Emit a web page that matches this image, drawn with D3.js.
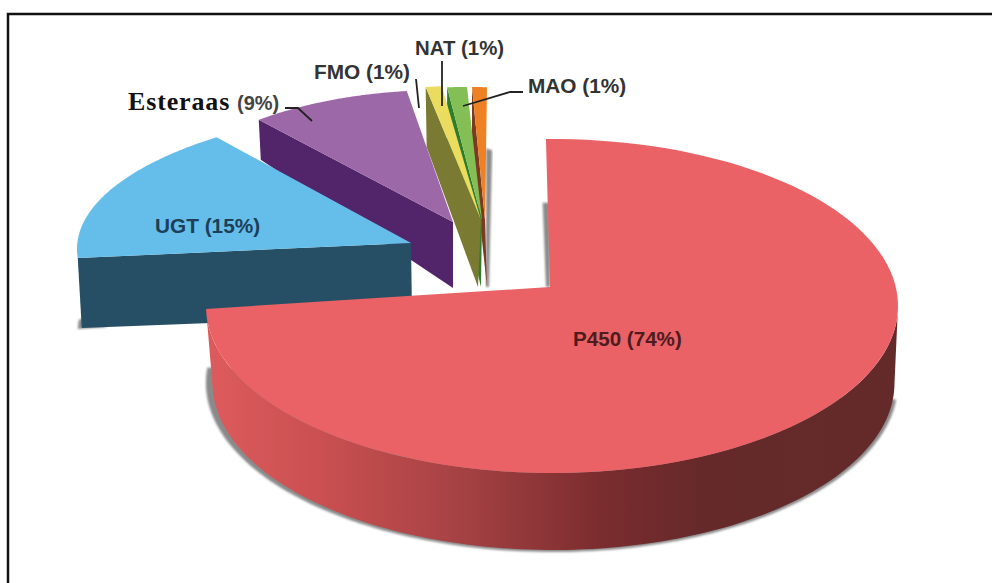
<!DOCTYPE html>
<html>
<head>
<meta charset="utf-8">
<script src="https://cdn.jsdelivr.net/npm/d3@7"></script>
<style>
  html, body { margin: 0; padding: 0; background: #fff; }
  svg { display: block; }
  text { font-family: "Liberation Sans", Arial, sans-serif; font-weight: bold; }
</style>
</head>
<body>
<svg id="chart" width="992" height="583"></svg>
<script>
// Drug-metabolising enzymes: share of each family
const categories = ["P450", "UGT", "Esteraas", "FMO", "NAT", "MAO"];
const shares = [74, 15, 9, 1, 1, 1];
const shareLabels = ["P450 (74%)", "UGT (15%)", "Esteraas", "FMO (1%)", "NAT (1%)", "MAO (1%)"];
const topColors = ["#ea6266", "#65bdea", "#9d68a8", "#e9dc5e", "#84bf55", "#ef8125"];
const wallColors = ["url(#p450Wall)", "#264f66", "#52256a", "#7a7a32", "#2e7d2e", "#7a3b20"];

// Where each exploded wedge sits in the tilted view
const wedgeLayout = [
  { cx: 552, cy: 306, rx: 346, ry: 167, rot: -1, stretch: 270 / 266.4, ax: 550, ay: 287 },
  { cx: 462, cy: 249, rx: 385, ry: 145, rot: 0, stretch: 1, ax: 411, ay: 243,
    farDepth: 70, nearDepth: 72, farShift: 4, nearShift: 1 },
  { cx: 443, cy: 220, rx: 289, ry: 130, rot: 0, stretch: 1, ax: 453, ay: 222,
    farDepth: 40, nearDepth: 66, farShift: 2, nearShift: 0 },
  { cx: 458, cy: 216, rx: 258, ry: 130, rot: 0, stretch: 1, ax: 481, ay: 220,
    farDepth: 60, nearDepth: 67, farShift: 1, nearShift: -3 },
  { cx: 467, cy: 220, rx: 317, ry: 133, rot: 0, stretch: 1, ax: 482, ay: 220,
    farDepth: 60, nearDepth: 67, farShift: 0, nearShift: -1 },
  { cx: 472, cy: 220, rx: 239, ry: 133, rot: 0, stretch: 1, ax: 485, ay: 220,
    farDepth: 60, nearDepth: 67, farShift: 0, nearShift: 2 }
];

const labelLayout = [
  { x: 573, y: 346, size: 20.6, fill: "#4e1b1e" },
  { x: 155, y: 233, size: 20.8, fill: "#1e3f58" },
  { x: 128, y: 110, size: 26, fill: "#111", serif: true, spacing: 0.85 },
  { x: 314, y: 79, size: 20.8, fill: "#333" },
  { x: 415, y: 55, size: 20.4, fill: "#333" },
  { x: 528, y: 93, size: 20.8, fill: "#333" }
];
const esteraasShare = { x: 237, y: 110, size: 20, fill: "#444", text: "(9%)" };

const leaderLines = [
  [[285, 108], [298, 108], [312, 121]],
  [[416, 79], [419, 108]],
  [[442, 61], [442, 106]],
  [[523, 92], [510, 92], [463, 106]]
];

const svg = d3.select("#chart");
const line = d3.line();
const angle = d3.scaleLinear().domain([0, 100]).range([0, 360]);
const cumulative = [0, ...d3.cumsum(shares)];

const rad = d => d * Math.PI / 180;
const rim = (w, deg) =>
  [w.cx + w.rx * Math.sin(rad(deg)), w.cy - w.ry * Math.cos(rad(deg))];
const sweep = (a, b, n = 120) => d3.range(n + 1).map(i => a + (b - a) * i / n);
const lerp = (p, q, t) => [p[0] + (q[0] - p[0]) * t, p[1] + (q[1] - p[1]) * t];

const wedges = categories.map((name, i) => {
  const w = wedgeLayout[i];
  const start = angle(cumulative[i]) + w.rot;
  const end = start + angle(shares[i]) * w.stretch;
  return { i, name, w, start, end };
});

const defs = svg.append("defs");
const grad = defs.append("linearGradient").attr("id", "p450Wall")
  .attr("gradientUnits", "userSpaceOnUse")
  .attr("x1", 206).attr("x2", 898).attr("y1", 0).attr("y2", 0);
[[0, "#de5b5d"], [0.17, "#c94f50"], [0.35, "#a94345"], [0.5, "#8a3436"],
 [0.57, "#7b2c2e"], [0.72, "#65292a"], [1, "#642a29"]].forEach(([o, c]) =>
  grad.append("stop").attr("offset", o).attr("stop-color", c));
defs.append("filter").attr("id", "soft").attr("x", "-10%").attr("y", "-10%")
  .attr("width", "120%").attr("height", "120%")
  .append("feGaussianBlur").attr("stdDeviation", 1.3);

svg.append("rect").attr("width", 992).attr("height", 583).attr("fill", "#fff");

// Page frame: top and left rules only
svg.append("path").attr("d", "M8,583V14H992").attr("fill", "none")
  .attr("stroke", "#111").attr("stroke-width", 2.5);

const pie = svg.append("g");

// Thin shadows falling behind the wedges
const drawShadow = pts => pie.append("path").attr("d", line(pts) + "Z")
  .attr("fill", "#8a8a8a").attr("filter", "url(#soft)");

function drawWedge(d) {
  const { w, start, end, i, name } = d;
  const a = rim(w, start), apex = [w.ax, w.ay];
  const g = pie.append("g").attr("data-name", name);
  if (w.farDepth !== undefined) {
    // side face running from the rim to the wedge tip
    const wall = [a, apex,
      [apex[0] + w.nearShift, apex[1] + w.nearDepth],
      [a[0] + w.farShift, a[1] + w.farDepth]];
    g.append("path").attr("d", line(wall) + "Z").attr("fill", wallColors[i]);
  }
  const top = [apex, ...sweep(start, end).map(t => rim(w, t))];
  g.append("path").attr("d", line(top) + "Z").attr("fill", topColors[i]);
}

// Back to front: the slim wedges, then Esteraas, then UGT
{
  const orange = wedges[5];
  const r = rim(orange.w, orange.end), tip = [orange.w.ax, orange.w.ay];
  const upper = lerp(r, tip, 0.46);
  drawShadow([upper, [upper[0] + 6, upper[1] + 2], [tip[0] + 4, tip[1] + 67], [tip[0] + 1, tip[1] + 67]]);
}
[5, 4, 3, 2].forEach(i => drawWedge(wedges[i]));

{
  const ugt = wedges[1];
  const a = rim(ugt.w, ugt.start);
  drawShadow([[a[0] + 1, a[1] + 62], [a[0] + 5, a[1] + 60], [a[0] + 30, a[1] + 69], [a[0], a[1] + 71]]);
}
drawWedge(wedges[1]);

// P450: ground shadow, inner shadow, outer wall, then the top face
const p450 = wedges[0];
const lower = { ...p450.w, cx: 553.5, cy: 383, rx: 341 };
const shadowRim = sweep(95, 276).map(t => {
  const [x, y] = rim(lower, t);
  const spread = t > 180 ? (t - 180) / 96 * 7 : (180 - t) / 85 * 3;
  return [x + (t > 180 ? -spread : spread), y + 2];
});
drawShadow(shadowRim);

{
  const r = rim(p450.w, p450.start), tip = [p450.w.ax, p450.w.ay];
  const upper = lerp(r, tip, 0.43);
  drawShadow([[upper[0] - 5, upper[1]], [upper[0] + 2, upper[1]], tip, [tip[0] - 4, tip[1]]]);
}

const wallAngles = sweep(90, p450.end);
pie.append("path")
  .attr("d", line([...wallAngles.map(t => rim(p450.w, t)),
                   ...wallAngles.slice().reverse().map(t => rim(lower, t))]) + "Z")
  .attr("fill", wallColors[0]);
drawWedge(p450);

// Leader lines
svg.append("g").selectAll("path").data(leaderLines).join("path")
  .attr("d", line).attr("fill", "none")
  .attr("stroke", "#222").attr("stroke-width", 1.8);

// Labels
svg.append("g").selectAll("text").data(shareLabels).join("text")
  .attr("x", (d, i) => labelLayout[i].x)
  .attr("y", (d, i) => labelLayout[i].y)
  .attr("font-size", (d, i) => labelLayout[i].size)
  .attr("fill", (d, i) => labelLayout[i].fill)
  .attr("letter-spacing", (d, i) => labelLayout[i].spacing || null)
  .style("font-family", (d, i) => labelLayout[i].serif ? '"Liberation Serif", serif' : null)
  .text(d => d);
svg.append("text")
  .attr("x", esteraasShare.x).attr("y", esteraasShare.y)
  .attr("font-size", esteraasShare.size).attr("fill", esteraasShare.fill)
  .text(esteraasShare.text);
</script>
</body>
</html>
